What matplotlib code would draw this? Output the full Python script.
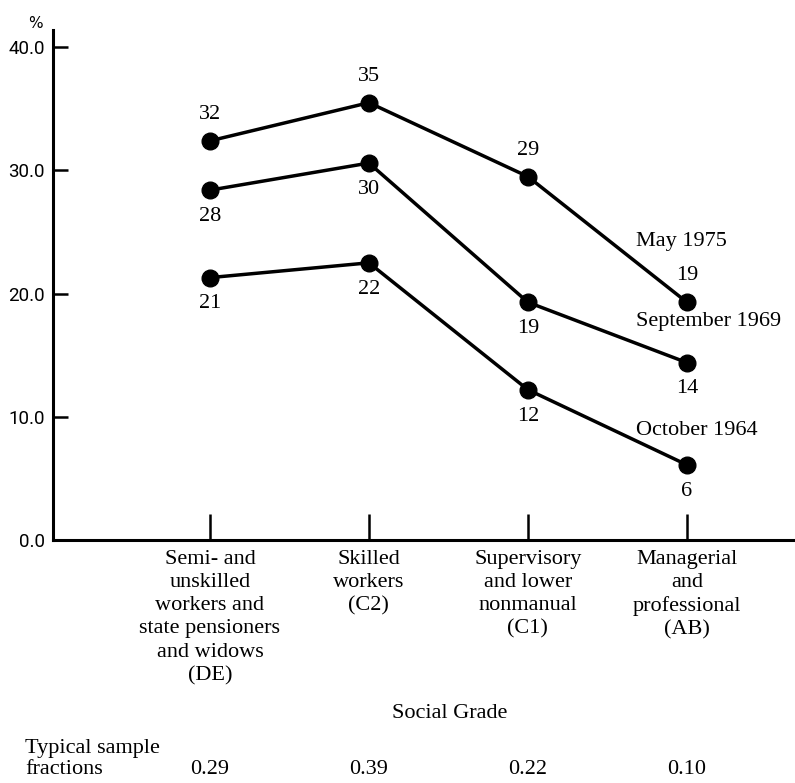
import matplotlib.pyplot as plt
from matplotlib.transforms import blended_transform_factory

# Data
grades = ['Semi- and\nunskilled\nworkers and\nstate pensioners\nand widows\n(DE)',
          'Skilled\nworkers\n(C2)',
          'Supervisory\nand lower\nnonmanual\n(C1)',
          'Managerial\nand\nprofessional\n(AB)']
fractions = ['0.29', '0.39', '0.22', '0.10']
series_names = ['May 1975', 'September 1969', 'October 1964']
series_values = [
    [32.4, 35.5, 29.5, 19.3],   # May 1975
    [28.4, 30.6, 19.3, 14.4],   # September 1969
    [21.3, 22.5, 12.2, 6.1],    # October 1964
]
series_labels = [
    [32, 35, 29, 19],
    [28, 30, 19, 14],
    [21, 22, 12, 6],
]
yticks = [0, 10, 20, 30, 40]

# Layout helpers (not data)
label_above = [True, False, False]
name_xy = [(2.68, 24.2), (2.68, 17.7), (2.68, 8.9)]

serif = 'Liberation Serif'
fs = 16
W, H = 795, 783

fig = plt.figure(figsize=(W / 100, H / 100), dpi=100)
ax = fig.add_axes([53 / W, (H - 540) / H, (W - 53) / W, 510 / H])

x = list(range(len(grades)))
for vals, labs, above in zip(series_values, series_labels, label_above):
    ax.plot(x, vals, color='black', lw=2.5, marker='o', ms=12, clip_on=False)
    for xi, v, lab in zip(x, vals, labs):
        ax.annotate(str(lab), (xi, v), xytext=(0, 19 if above else -19),
                    textcoords='offset points', ha='center', va='center',
                    family=serif, fontsize=fs)

for name, (nx, ny) in zip(series_names, name_xy):
    ax.text(nx, ny, name, ha='left', va='center', family=serif, fontsize=fs)

ax.set_xlim(-0.987, 3.68)
ax.set_ylim(0, 41.4)
for s in ['top', 'right']:
    ax.spines[s].set_visible(False)
for s in ['left', 'bottom']:
    ax.spines[s].set_linewidth(2.2)

ax.set_yticks(yticks)
ax.set_yticklabels([f'{v:.1f}' for v in yticks], family='Roboto', fontsize=13.5)
ax.tick_params(axis='y', direction='in', length=11, width=1.8, pad=6)

ax.set_xticks(x)
ax.set_xticklabels(grades, family=serif, fontsize=fs)
for t in ax.get_xticklabels():
    t.set_linespacing(1.3)
ax.tick_params(axis='x', direction='in', length=19, width=1.8, pad=7)

fig.text(35 / W, 1 - 23 / H, '%', ha='center', va='center', family='DejaVu Sans', fontsize=11)
fig.text(450 / W, 1 - 713 / H, 'Social Grade', ha='center', va='center',
         family=serif, fontsize=fs)
fig.text(25 / W, 1 - 759 / H, 'Typical sample\nfractions', ha='left', va='center',
         family=serif, fontsize=fs, linespacing=1.1)

trans = blended_transform_factory(ax.transData, fig.transFigure)
for xi, f in zip(x, fractions):
    ax.text(xi, 1 - 770 / H, f, transform=trans, ha='center', va='center',
            family=serif, fontsize=fs)

fig.savefig('out.png', dpi=100)
